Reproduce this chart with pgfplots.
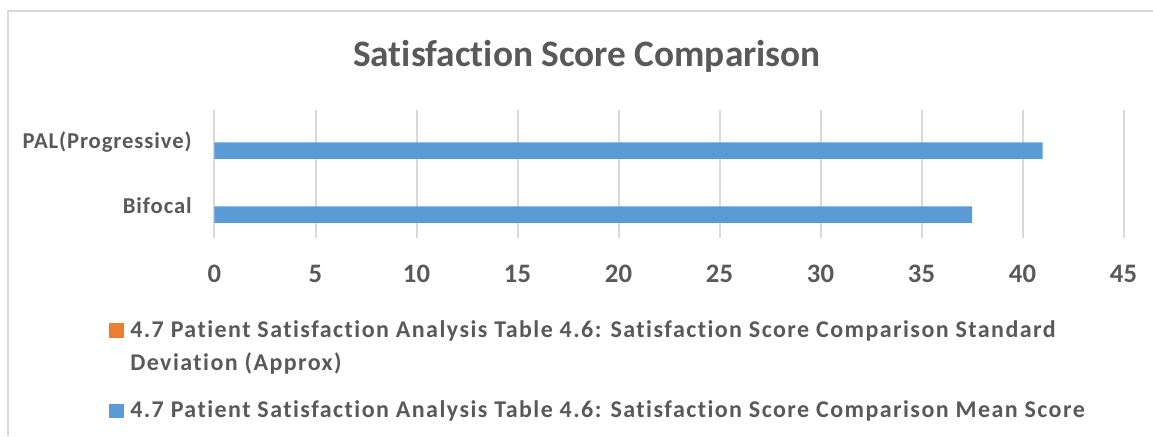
\documentclass[border=0pt]{standalone}
\usepackage{fontspec}
\setmainfont{Carlito}[Ligatures=NoCommon]
\usepackage{pgfplots}
\pgfplotsset{compat=1.18}
\definecolor{barblue}{HTML}{5B9BD5}
\definecolor{barorange}{HTML}{ED7D31}
\definecolor{txt}{HTML}{595959}
\definecolor{gridc}{HTML}{D9D9D9}
\newcommand{\legfont}{\fontsize{18}{25}\selectfont\bfseries\addfontfeature{LetterSpace=6}}
\begin{document}
\begin{tikzpicture}
\path[use as bounding box] (0,0) rectangle (864.75pt,-327pt);
\draw[gridc, line width=1.5pt] (6.2pt,-327pt) -- (6.2pt,-8.25pt) -- (864.75pt,-8.25pt);
\node[anchor=base, text=txt, font=\fontsize{28}{32}\selectfont\bfseries, inner sep=0pt] at (440.25pt,-49.5pt) {Satisfaction Score Comparison};
\begin{axis}[
  at={(160.875pt,-178.5pt)}, anchor=south west,
  scale only axis, width=681.75pt, height=96pt,
  xbar, bar width=12.4pt,
  xmin=0, xmax=45, ymin=-0.5, ymax=1.5,
  xtick={0,5,...,45}, ytick={0,1}, yticklabels={Bifocal,PAL(Progressive)},
  xmajorgrids, major grid style={gridc, line width=1.5pt},
  axis line style={draw=none},
  major tick length=0pt,
  tick label style={text=txt},
  xticklabel style={font=\fontsize{20}{24}\selectfont\bfseries, anchor=north, inner sep=0pt, yshift=-20pt},
  yticklabel style={font=\fontsize{17}{20}\selectfont\bfseries\addfontfeature{LetterSpace=4}, anchor=east, inner sep=0pt, xshift=-16.9pt},
  /pgf/number format/assume math mode=true,
]
\addplot[fill=barblue, draw=none, bar shift=-6.4pt] coordinates {(37.5,0) (41,1)};
\end{axis}
\fill[barorange] (82pt,-242.25pt) rectangle (93pt,-253.25pt);
\node[anchor=base west, text=txt, font=\legfont, inner sep=0pt] at (97.5pt,-253pt) {4.7 Patient Satisfaction Analysis Table 4.6: Satisfaction Score Comparison Standard};
\node[anchor=base west, text=txt, font=\legfont, inner sep=0pt] at (97.5pt,-278pt) {Deviation (Approx)};
\fill[barblue] (82pt,-303pt) rectangle (93pt,-313.5pt);
\node[anchor=base west, text=txt, font=\legfont, inner sep=0pt] at (97.5pt,-313.3pt) {4.7 Patient Satisfaction Analysis Table 4.6: Satisfaction Score Comparison Mean Score};
\end{tikzpicture}
\end{document}
